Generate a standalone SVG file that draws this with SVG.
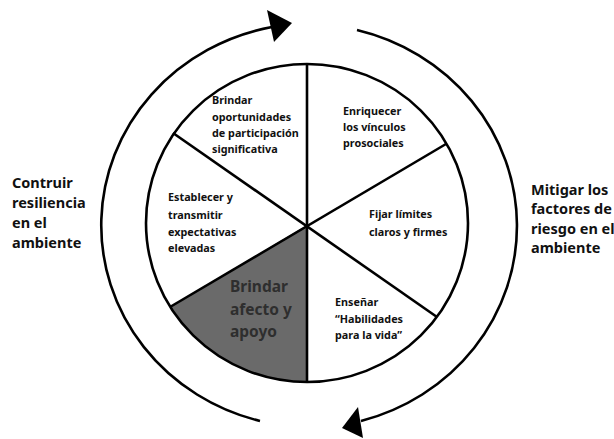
<svg xmlns="http://www.w3.org/2000/svg" width="614" height="439" viewBox="0 0 614 439">
<style>
.ln{fill:none;stroke:#000;stroke-width:2.6}
.t{font-family:"Noto Sans","Liberation Sans",sans-serif;font-weight:bold;fill:#111}
.s{font-size:10.8px}
.o{font-size:14.5px}
.d{font-size:15.5px;fill:#2e2e2e}
</style>
<rect width="614" height="439" fill="#fff"/>
<g id="connectors">
<path class="ln" d="M260,421 A211,202 0 0 1 272,27"/>
<polygon points="267,10 292,23 274,42" fill="#000"/>
<path class="ln" d="M357,30 A211,202 0 0 1 361,421"/>
<polygon points="358,407 342,428 363,438" fill="#000"/>
</g>
<g id="wheel">
<path d="M307,225 L170,307 A161,159 0 0 0 307,382 Z" fill="#6a6a6a"/>
<line class="ln" x1="307" y1="64" x2="307" y2="382"/>
<line class="ln" x1="173" y1="133" x2="437" y2="317"/>
<line class="ln" x1="446" y1="144" x2="170" y2="307"/>
<ellipse class="ln" cx="307" cy="223" rx="161" ry="159"/>
</g>
<g id="n1"><text class="t s"><tspan x="212" y="104">Brindar</tspan><tspan x="212" y="121">oportunidades</tspan><tspan x="212" y="137">de participación</tspan><tspan x="212" y="153">significativa</tspan></text></g>
<g id="n2"><text class="t s"><tspan x="343" y="115">Enriquecer</tspan><tspan x="343" y="131">los vínculos</tspan><tspan x="343" y="147">prosociales</tspan></text></g>
<g id="n3"><text class="t s"><tspan x="168" y="201">Establecer y</tspan><tspan x="168" y="219">transmitir</tspan><tspan x="168" y="236">expectativas</tspan><tspan x="168" y="252">elevadas</tspan></text></g>
<g id="n4"><text class="t s"><tspan x="369" y="218">Fijar límites</tspan><tspan x="369" y="236">claros y firmes</tspan></text></g>
<g id="n5"><text class="t d"><tspan x="230" y="292">Brindar</tspan><tspan x="230" y="315">afecto y</tspan><tspan x="230" y="337">apoyo</tspan></text></g>
<g id="n6"><text class="t s"><tspan x="335" y="306">Enseñar</tspan><tspan x="335" y="323">“Habilidades</tspan><tspan x="335" y="339">para la vida”</tspan></text></g>
<g id="left"><text class="t o"><tspan x="12" y="188">Contruir</tspan><tspan x="12" y="208">resiliencia</tspan><tspan x="12" y="228">en el</tspan><tspan x="12" y="248">ambiente</tspan></text></g>
<g id="right"><text class="t o"><tspan x="531" y="195">Mitigar los</tspan><tspan x="531" y="214">factores de</tspan><tspan x="531" y="234">riesgo en el</tspan><tspan x="531" y="253">ambiente</tspan></text></g>
</svg>
